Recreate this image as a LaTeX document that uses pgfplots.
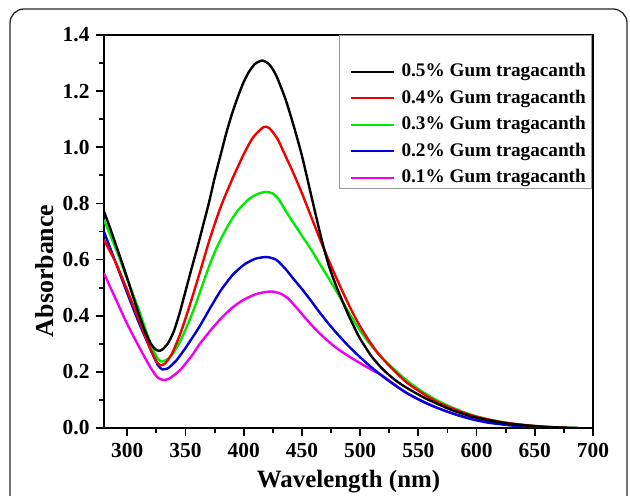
\documentclass[border=0pt]{standalone}
\usepackage{fontspec}
\setmainfont{Liberation Serif}
\usepackage{pgfplots}
\pgfplotsset{compat=1.18}
\definecolor{cblack}{RGB}{0,0,0}
\definecolor{cred}{RGB}{240,0,0}
\definecolor{cgreen}{RGB}{0,235,0}
\definecolor{cblue}{RGB}{0,0,215}
\definecolor{cmag}{RGB}{240,0,240}
\begin{document}
\begin{tikzpicture}
\begin{axis}[
  at={(104bp,68bp)}, anchor=south west,
  scale only axis, width=489bp, height=393bp,
  xmin=280, xmax=700, ymin=0, ymax=1.4,
  xtick={300,350,...,700}, ytick={0,0.2,...,1.4},
  minor x tick num=1, minor y tick num=1,
  tick pos=left, tick align=outside,
  major tick length=8bp, minor tick length=5bp,
  every tick/.style={line width=1.8bp, black},
  axis line style={line width=2bp},
  /pgf/number format/assume math mode=true,
  ticklabel style={font=\fontsize{21.5}{24}\selectfont\bfseries},
  yticklabel style={/pgf/number format/fixed, /pgf/number format/fixed zerofill, /pgf/number format/precision=1, xshift=-3bp},
  xticklabel style={yshift=-4bp},
  xlabel={Wavelength (nm)}, ylabel={Absorbance},
  xlabel style={font=\fontsize{25}{30}\selectfont\bfseries, at={(axis description cs:0.5,-0.137)}, anchor=center},
  ylabel style={font=\fontsize{26}{30}\selectfont\bfseries, at={(axis description cs:-0.1207,0.40)}, anchor=center},
  every axis plot/.append style={line width=2.4bp, smooth, tension=0.4},
  reverse legend,
  legend cell align=left,
  legend image code/.code={\draw[#1] (0bp,0bp) -- (43bp,0bp);},
  legend style={at={(axis description cs:0.503,0.930)}, anchor=north west, draw=none, fill=none, inner sep=0pt,
    font=\fontsize{19.3}{22}\selectfont\bfseries,
    nodes={inner sep=0pt, text height=14bp, text depth=4bp},
    row sep=8.5bp, /tikz/column 1/.style={column sep=6bp}},
]
% magenta 0.1%
\addplot[cmag] coordinates {
(280,0.551) (290,0.46) (300,0.37) (310,0.29) (320,0.215) (326,0.18) (331,0.171) (336,0.176) (345,0.205) (355,0.255)
(362,0.298) (371,0.345) (380,0.388) (390,0.428) (400,0.457) (410,0.476) (418,0.484) (425,0.486) (432,0.478) (438,0.462)
(444,0.435) (451,0.401) (458,0.368) (465,0.338) (472,0.311) (480,0.284) (490,0.256) (500,0.231) (510,0.207) (520,0.184)
(540,0.124) (560,0.082) (580,0.051) (600,0.03) (620,0.016) (640,0.007) (660,0.002) (675,0.0)};
% blue 0.2%
\addplot[cblue] coordinates {
(280,0.699) (290,0.59) (300,0.48) (310,0.375) (320,0.28) (326,0.226) (330,0.209) (335,0.213) (342,0.24) (350,0.285)
(362,0.361) (371,0.426) (380,0.488) (390,0.543) (400,0.581) (410,0.603) (420,0.609) (428,0.599) (436,0.566) (443,0.53)
(451,0.49) (458,0.452) (465,0.413) (472,0.376) (480,0.337) (490,0.292) (500,0.252) (510,0.215) (520,0.182) (530,0.152)
(540,0.125) (555,0.092) (568,0.069) (582,0.048) (596,0.031) (610,0.019) (630,0.009) (650,0.003) (675,0.0)};
% green 0.3%
\addplot[cgreen] coordinates {
(280,0.741) (290,0.64) (300,0.53) (310,0.42) (320,0.30) (325,0.255) (329,0.237) (335,0.246) (340,0.27) (345,0.305)
(350,0.35) (355,0.40) (360,0.455) (365,0.515) (370,0.573) (375,0.625) (380,0.67) (385,0.71) (390,0.745) (395,0.775)
(400,0.798) (405,0.817) (410,0.830) (415,0.838) (420,0.841) (425,0.835) (430,0.815) (436,0.774) (443,0.729) (450,0.685)
(458,0.635) (465,0.587) (472,0.54) (479,0.492) (486,0.442) (493,0.393) (500,0.347) (508,0.302) (520,0.245) (539,0.173)
(554,0.128) (568,0.094) (582,0.068) (596,0.046) (610,0.031) (625,0.019) (640,0.011) (660,0.004) (685,0.0)};
% red 0.4%
\addplot[cred] coordinates {
(280,0.67) (290,0.59) (300,0.49) (310,0.385) (320,0.28) (325,0.238) (328,0.224) (332,0.228) (338,0.262) (345,0.33)
(350,0.39) (355,0.455) (362,0.55) (371,0.675) (380,0.785) (390,0.885) (400,0.975) (408,1.035) (417,1.072) (422,1.068)
(429,1.03) (436,0.968) (443,0.905) (451,0.826) (458,0.752) (465,0.678) (472,0.607) (479,0.54) (486,0.476) (493,0.416)
(500,0.362) (507,0.315) (515,0.268) (525,0.222) (540,0.162) (555,0.12) (568,0.089) (585,0.06) (600,0.04) (620,0.022)
(640,0.011) (660,0.004) (680,0.0)};
% black 0.5%
\addplot[cblack] coordinates {
(280,0.771) (285,0.715) (290,0.655) (295,0.595) (300,0.533) (305,0.468) (310,0.405) (315,0.347) (320,0.302) (324,0.281)
(327,0.275) (330,0.279) (335,0.302) (340,0.345) (345,0.41) (350,0.487) (355,0.565) (360,0.64) (365,0.72) (370,0.80)
(375,0.89) (380,0.97) (385,1.05) (390,1.12) (395,1.18) (400,1.233) (405,1.272) (410,1.298) (416,1.309) (422,1.295)
(428,1.255) (436,1.17) (443,1.075) (450,0.97) (459,0.81) (467,0.67) (473,0.58) (479,0.51) (485,0.45) (490,0.402)
(495,0.358) (500,0.318) (510,0.254) (520,0.207) (530,0.171) (540,0.143) (555,0.108) (568,0.083) (580,0.062) (596,0.041)
(610,0.028) (625,0.017) (640,0.010) (655,0.005) (670,0.002) (688,0.0)};
\legend{0.1\% Gum tragacanth, 0.2\% Gum tragacanth, 0.3\% Gum tragacanth, 0.4\% Gum tragacanth, 0.5\% Gum tragacanth}
\draw[gray!80, line width=0.9bp] (axis description cs:0.4806,0.6107) rectangle (axis description cs:0.9959,1);
\end{axis}
\draw[rounded corners=14bp, line width=1.3bp, black!85] (10bp,-40bp) rectangle (627bp,487bp);
\pgfresetboundingbox
\useasboundingbox (0,0) rectangle (630bp,496bp);
\end{tikzpicture}
\end{document}
